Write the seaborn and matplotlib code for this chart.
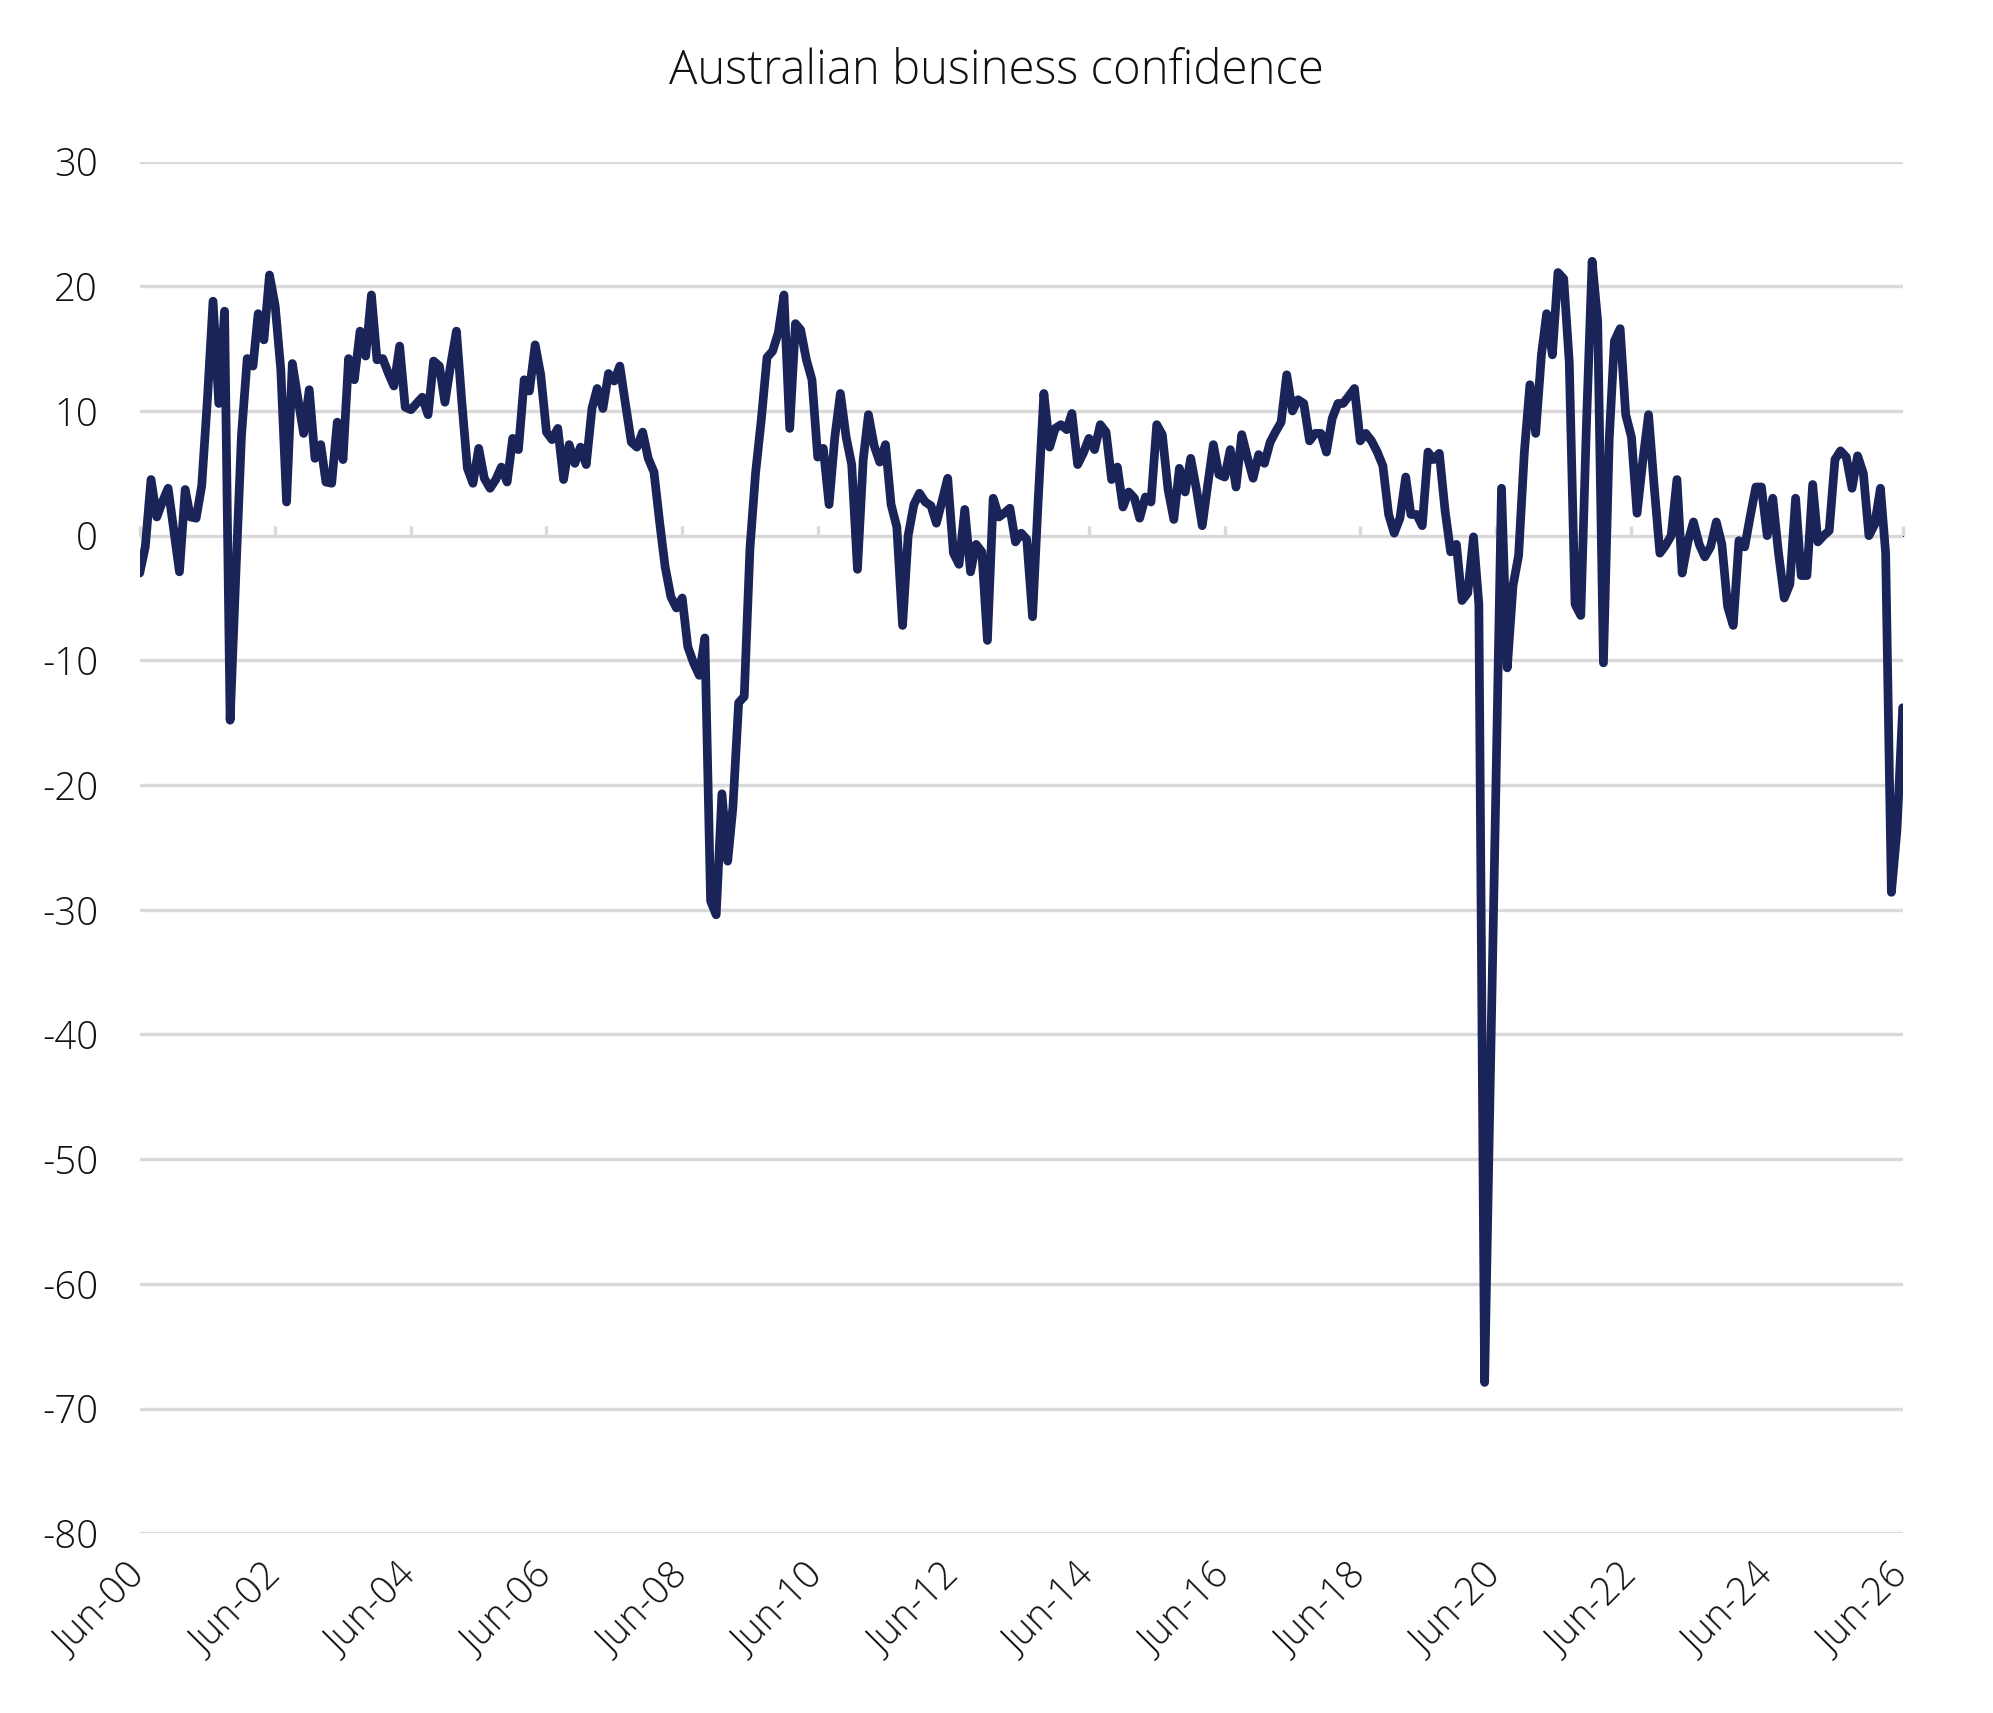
import pandas as pd
import numpy as np
import seaborn as sns
import matplotlib.pyplot as plt

# monthly readings, starting Jun-2000
start_month = "2000-06-01"
confidence = [
    -3.0, -0.9, 4.5, 1.5, 2.7, 3.8, 0.5, -2.9, 3.7, 1.5, 1.4, 4.0,
    11.0, 18.8, 10.6, 18.0, -14.8, -3.0, 8.0, 14.2, 13.6, 17.8, 15.7, 20.9,
    18.4, 13.3, 2.7, 13.8, 11.0, 8.2, 11.7, 6.2, 7.3, 4.3, 4.2, 9.1,
    6.1, 14.2, 12.5, 16.4, 14.4, 19.3, 14.1, 14.2, 13.0, 12.0, 15.2, 10.3,
    10.1, 10.6, 11.1, 9.7, 14.0, 13.6, 10.7, 13.7, 16.4, 10.9, 5.4, 4.2,
    7.0, 4.6, 3.8, 4.5, 5.5, 4.3, 7.8, 6.9, 12.5, 11.6, 15.3, 12.9,
    8.3, 7.7, 8.6, 4.5, 7.3, 5.8, 7.1, 5.7, 10.2, 11.8, 10.2, 13.0,
    12.4, 13.6, 10.5, 7.5, 7.1, 8.3, 6.2, 5.1, 1.0, -2.5, -4.9, -5.8,
    -5.0, -8.9, -10.2, -11.2, -8.2, -29.3, -30.4, -20.7, -26.1, -21.8, -13.4, -12.9,
    -1.0, 5.0, 9.3, 14.3, 14.8, 16.3, 19.3, 8.6, 17.0, 16.5, 14.1, 12.5,
    6.3, 7.0, 2.5, 7.9, 11.4, 7.9, 5.7, -2.7, 6.1, 9.7, 7.2, 5.9,
    7.3, 2.5, 0.7, -7.2, 0.0, 2.5, 3.4, 2.7, 2.4, 1.0, 2.8, 4.6,
    -1.4, -2.3, 2.1, -2.9, -0.7, -1.3, -8.4, 3.0, 1.5, 1.8, 2.2, -0.5,
    0.2, -0.3, -6.5, 3.0, 11.4, 7.1, 8.6, 8.9, 8.5, 9.8, 5.7, 6.6,
    7.8, 6.9, 8.9, 8.3, 4.5, 5.5, 2.3, 3.5, 3.0, 1.4, 3.1, 2.7,
    8.9, 8.1, 3.7, 1.3, 5.4, 3.5, 6.2, 3.7, 0.8, 4.0, 7.3, 4.9,
    4.7, 6.9, 3.9, 8.1, 6.3, 4.6, 6.5, 5.8, 7.5, 8.3, 9.1, 12.9,
    10.0, 10.9, 10.6, 7.6, 8.2, 8.2, 6.7, 9.4, 10.6, 10.6, 11.2, 11.8,
    7.6, 8.2, 7.6, 6.7, 5.6, 1.7, 0.2, 1.4, 4.7, 1.7, 1.7, 0.8,
    6.7, 6.1, 6.6, 2.0, -1.3, -0.7, -5.2, -4.6, -0.1, -5.5, -67.9, -44.0,
    -20.0, 3.8, -10.6, -4.0, -1.6, 6.7, 12.1, 8.2, 14.5, 17.8, 14.5, 21.1,
    20.6, 13.9, -5.5, -6.4, 8.7, 22.0, 17.2, -10.2, 7.7, 15.6, 16.6, 9.7,
    7.9, 1.8, 6.0, 9.7, 4.0, -1.4, -0.8, 0.0, 4.5, -3.0, -0.5, 1.1,
    -0.7, -1.7, -0.9, 1.1, -0.7, -5.7, -7.2, -0.4, -0.9, 1.5, 3.9, 3.9,
    0.0, 3.0, -1.4, -5.0, -3.9, 3.0, -3.2, -3.2, 4.1, -0.5, 0.0, 0.4,
    6.1, 6.8, 6.3, 3.8, 6.4, 5.0, 0.0, 0.9, 3.8, -1.4, -28.6, -23.6,
    -13.8,
]
y_ticks = [30, 20, 10, 0, -10, -20, -30, -40, -50, -60, -70, -80]
x_tick_labels = ["Jun-00", "Jun-02", "Jun-04", "Jun-06", "Jun-08", "Jun-10", "Jun-12",
                 "Jun-14", "Jun-16", "Jun-18", "Jun-20", "Jun-22", "Jun-24", "Jun-26"]

navy = "#1a2459"
grid_grey = "#d9d9d9"
text_col = "#111111"

df = pd.DataFrame({
    "date": pd.date_range(start_month, periods=len(confidence), freq="MS"),
    "value": confidence,
})
x_tick_dates = pd.to_datetime(["20" + s[-2:] + "-06-01" for s in x_tick_labels])

sns.set_style("white")
plt.rcParams["font.family"] = ["Open Sans", "DejaVu Sans"]

fig, ax = plt.subplots(figsize=(19.93, 17.13), dpi=100)
fig.subplots_adjust(left=0.0701, right=0.9547, top=0.9057, bottom=0.1049)

sns.lineplot(data=df, x="date", y="value", color=navy, linewidth=6.3, ax=ax,
             solid_joinstyle="round", solid_capstyle="round", zorder=5)

ax.set_xlim(x_tick_dates[0], x_tick_dates[-1])
ax.set_ylim(-80, 30)
ax.set_yticks(y_ticks)
ax.set_yticklabels([str(v) for v in y_ticks], fontsize=27.5, color=text_col, fontweight="light")
ax.yaxis.grid(True, color=grid_grey, linewidth=2.4)
ax.xaxis.grid(False)
ax.set_axisbelow(True)
ax.tick_params(axis="y", length=0, pad=30)

ax.set_xticks(x_tick_dates)
ax.set_xticklabels(x_tick_labels, rotation=45, ha="right", va="center",
                   rotation_mode="anchor", fontsize=27.5, color=text_col, fontweight="light")
ax.tick_params(axis="x", length=0, pad=27)
ax.set_xlabel("")
ax.set_ylabel("")
for s in ax.spines.values():
    s.set_visible(False)

# small tick marks hanging off the zero line
zero_axis = ax.secondary_xaxis(80 / 110)
zero_axis.set_xticks(x_tick_dates)
zero_axis.set_xticklabels([])
zero_axis.tick_params(axis="x", direction="out", length=7, width=2.4, color=grid_grey)
zero_axis.spines["bottom"].set_visible(False)

fig.text(0.5, 1 - 72 / 1713, "Australian business confidence", ha="center", va="center",
         fontsize=34, color=text_col, fontweight="light")

fig.savefig("out.png", dpi=100)
